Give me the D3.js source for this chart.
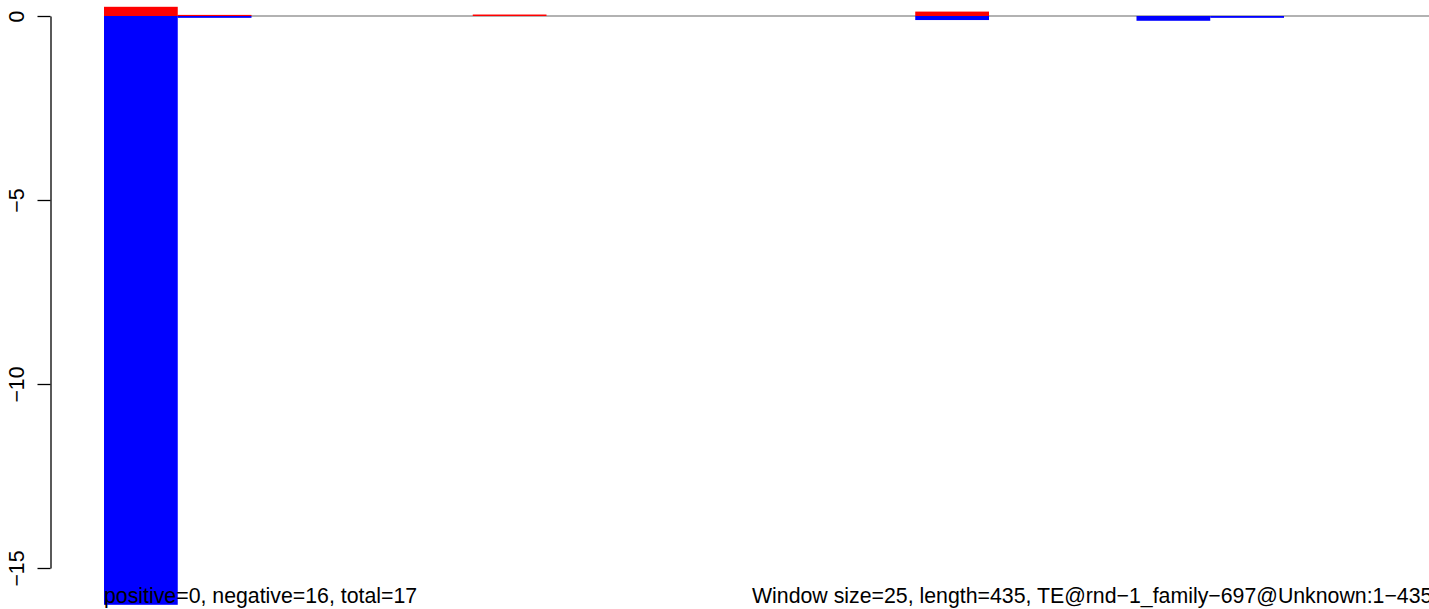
<!DOCTYPE html>
<html>
<head>
<meta charset="utf-8">
<script src="https://d3js.org/d3.v7.min.js"></script>
<style>
  html, body { margin: 0; padding: 0; background: #fff; overflow: hidden; }
  svg { display: block; font-family: "Liberation Sans", Arial, Helvetica, sans-serif; }
</style>
</head>
<body>
<svg id="chart" width="1429" height="609"></svg>
<script>
// Window index (18 windows of size 25 over length 435)
const windows = d3.range(18);
// Positive (red) and negative (blue) values per window
const positiveValues = [0.25, 0.03, 0, 0, 0, 0.04, 0, 0, 0, 0, 0, 0.12, 0, 0, 0, 0, 0, 0];
const negativeValues = [-16, -0.05, 0, 0, 0, 0, 0, 0, 0, 0, 0, -0.11, 0, 0, -0.13, -0.05, 0, 0];
const yTicks = [0, -5, -10, -15];
const leftLabel = "positive=0, negative=16, total=17";
const rightLabel = "Window size=25, length=435, TE@rnd\u22121_family\u2212697@Unknown:1\u2212435";

const svg = d3.select("#chart");

const x = d3.scaleBand().domain(windows).range([104, 104 + 18 * 73.75]).padding(0);
const y = d3.scaleLinear().domain([-15, 0]).range([568, 16]);

// zero line
svg.append("line")
  .attr("x1", 104).attr("x2", 1429)
  .attr("y1", y(0)).attr("y2", y(0))
  .attr("stroke", "#666").attr("stroke-width", 1.2);

// negative bars (blue)
svg.append("g").selectAll("rect")
  .data(windows.filter(i => negativeValues[i] !== 0))
  .join("rect")
  .attr("x", i => x(i))
  .attr("width", x.bandwidth())
  .attr("y", y(0))
  .attr("height", i => y(negativeValues[i]) - y(0))
  .attr("fill", "#0000ff");

// positive bars (red)
svg.append("g").selectAll("rect")
  .data(windows.filter(i => positiveValues[i] !== 0))
  .join("rect")
  .attr("x", i => x(i))
  .attr("width", x.bandwidth())
  .attr("y", i => y(positiveValues[i]))
  .attr("height", i => y(0) - y(positiveValues[i]))
  .attr("fill", "#ff0000");

// y axis
const yAxis = d3.axisLeft(y)
  .tickValues(yTicks)
  .tickSize(13)
  .tickSizeOuter(0)
  .tickFormat(d => d < 0 ? "\u2212" + Math.abs(d) : String(d));

const ag = svg.append("g").attr("transform", "translate(50.5,0)").call(yAxis);
ag.select(".domain").attr("stroke", "#000").attr("stroke-width", 1.3);
ag.selectAll(".tick line").attr("stroke", "#000").attr("stroke-width", 1.3);
ag.selectAll(".tick text")
  .attr("fill", "#000")
  .attr("font-size", 21.3)
  .attr("font-family", "Liberation Sans, Arial, sans-serif")
  .attr("x", null).attr("dy", null)
  .attr("text-anchor", "middle")
  .attr("transform", "translate(-26.5,0) rotate(-90)");

// bottom annotations
svg.append("text")
  .attr("x", 104).attr("y", 603)
  .attr("font-size", 21.3)
  .attr("fill", "#000")
  .text(leftLabel);

svg.append("text")
  .attr("x", 752).attr("y", 603)
  .attr("font-size", 21.3)
  .attr("fill", "#000")
  .text(rightLabel);
</script>
</body>
</html>
